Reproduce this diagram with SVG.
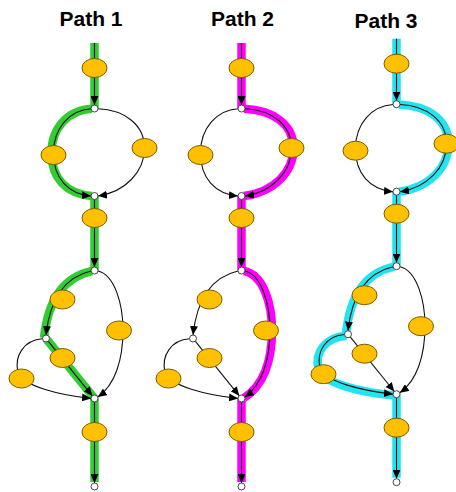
<svg xmlns="http://www.w3.org/2000/svg" width="456" height="492" viewBox="0 0 456 492">
<style>
.t{font-family:"Liberation Sans",Arial,sans-serif;font-weight:bold;font-size:21px;text-anchor:middle;fill:#000}
.e{fill:#ffc000;stroke:#7a5c00;stroke-width:1}
.j{fill:#fff;stroke:#444;stroke-width:1}
.c{fill:none;stroke:#111;stroke-width:1.1}
.a{marker-end:url(#ah)}
.hg{fill:none;stroke:#33cc33;stroke-width:8.5}
.hm{fill:none;stroke:#ff00ff;stroke-width:8.5}
.hc{fill:none;stroke:#22e4f0;stroke-width:8.5}
</style>
<defs>
<marker id="ah" markerUnits="userSpaceOnUse" markerWidth="9" markerHeight="8" refX="9" refY="4" orient="auto"><path d="M0,0L9,4L0,8z" fill="#000"/></marker>
</defs>
<rect width="456" height="492" fill="#fff"/>
<g id="titles">
<text class="t" x="91" y="26">Path 1</text>
<text class="t" x="242.5" y="26">Path 2</text>
<text class="t" x="386" y="28.3">Path 3</text>
</g>
<g id="connectors">
<g id="c1">
<path class="hg" d="M94.5,43V108"/>
<path class="hg" transform="translate(-2,0)" d="M94,108.8C70,110 53.5,128 53.5,153C53.5,178 68,194 94,196"/>
<path class="hg" d="M94.5,196V270"/>
<path class="hg" transform="translate(-2,0)" d="M94,271Q52,280 46,338"/>
<path class="hg" d="M46,338.5L94.5,398.5"/>
<path class="hg" d="M94.5,398.5V482"/>
<path class="c a" d="M94.5,43V105"/>
<path class="c a" d="M91,108.8C70,110 53.5,128 53.5,153C53.5,178 68,194 91,196"/>
<path class="c a" d="M98,108.8C125,110 144.5,125 144.5,148C144.5,172 125,192 98,196"/>
<path class="c a" d="M94.5,199.5V267"/>
<path class="c a" d="M91,271Q52,280 46,335"/>
<path class="c a" d="M98,271C115,275 123,305 123,330C123,360 115,385 97.8,397"/>
<path class="c a" d="M48.2,341.2L92.3,395.8"/>
<path class="c a" d="M42.5,338.8C24,340 14,356 18,372C22,386 60,395 91,398.4"/>
<path class="c a" d="M94.5,402V483"/>
</g>
<g id="c2" transform="translate(147,0)">
<path class="hm" d="M94.5,43V108"/>
<path class="hm" transform="translate(2,0)" d="M95,108.8C125,110 144.5,125 144.5,148C144.5,172 125,192 95,196"/>
<path class="hm" d="M94.5,196V270"/>
<path class="hm" transform="translate(2,0)" d="M95,271C115,275 123,305 123,330C123,360 115,385 95,398"/>
<path class="hm" d="M94.5,398.5V482"/>
<path class="c a" d="M94.5,43V105"/>
<path class="c a" d="M91,108.8C70,110 53.5,128 53.5,153C53.5,178 68,194 91,196"/>
<path class="c a" d="M98,108.8C125,110 144.5,125 144.5,148C144.5,172 125,192 98,196"/>
<path class="c a" d="M94.5,199.5V267"/>
<path class="c a" d="M91,271Q52,280 46,335"/>
<path class="c a" d="M98,271C115,275 123,305 123,330C123,360 115,385 97.8,397"/>
<path class="c a" d="M48.2,341.2L92.3,395.8"/>
<path class="c a" d="M42.5,338.8C24,340 14,356 18,372C22,386 60,395 91,398.4"/>
<path class="c a" d="M94.5,402V483"/>
</g>
<g id="c3" transform="translate(302,-4.3)">
<path class="hc" d="M94.5,43V108"/>
<path class="hc" transform="translate(2,0)" d="M95,108.8C125,110 144.5,125 144.5,148C144.5,172 125,192 95,196"/>
<path class="hc" d="M94.5,196V270"/>
<path class="hc" transform="translate(-2,0)" d="M94,271Q52,280 46,338"/>
<path class="hc" transform="translate(-1.5,1.5)" d="M46,338.5C24,340 14,356 18,372C22,386 60,395 94,398.4"/>
<path class="hc" d="M94.5,398.5V482"/>
<path class="c a" d="M94.5,43V105"/>
<path class="c a" d="M91,108.8C70,110 53.5,128 53.5,153C53.5,178 68,194 91,196"/>
<path class="c a" d="M98,108.8C125,110 144.5,125 144.5,148C144.5,172 125,192 98,196"/>
<path class="c a" d="M94.5,199.5V267"/>
<path class="c a" d="M91,271Q52,280 46,335"/>
<path class="c a" d="M98,271C115,275 123,305 123,330C123,360 115,385 97.8,397"/>
<path class="c a" d="M48.2,341.2L92.3,395.8"/>
<path class="c a" d="M42.5,338.8C24,340 14,356 18,372C22,386 60,395 91,398.4"/>
<path class="c a" d="M94.5,402V483"/>
</g>
</g>
<g id="nodes1">
<g id="p1-top"><ellipse class="e" cx="94.5" cy="68" rx="12.5" ry="9.5"/></g>
<g id="p1-j1"><circle class="j" cx="94.5" cy="108.5" r="3.5"/></g>
<g id="p1-l1"><ellipse class="e" cx="53.5" cy="155" rx="12.5" ry="9.5"/></g>
<g id="p1-r1"><ellipse class="e" cx="144.5" cy="148" rx="12.5" ry="9.5"/></g>
<g id="p1-j2"><circle class="j" cx="94.5" cy="196" r="3.5"/></g>
<g id="p1-mid"><ellipse class="e" cx="94.5" cy="218" rx="12.5" ry="9.5"/></g>
<g id="p1-j3"><circle class="j" cx="94.5" cy="270.5" r="3.5"/></g>
<g id="p1-ul"><ellipse class="e" cx="62.5" cy="299.5" rx="12.5" ry="9.5"/></g>
<g id="p1-r2"><ellipse class="e" cx="119" cy="330.5" rx="12.5" ry="9.5"/></g>
<g id="p1-j4"><circle class="j" cx="46" cy="338.5" r="3.5"/></g>
<g id="p1-m"><ellipse class="e" cx="62.5" cy="358" rx="12.5" ry="9.5"/></g>
<g id="p1-fl"><ellipse class="e" cx="21.5" cy="378.5" rx="12.5" ry="9.5"/></g>
<g id="p1-j5"><circle class="j" cx="94.5" cy="398.5" r="3.5"/></g>
<g id="p1-bot"><ellipse class="e" cx="94.5" cy="432" rx="12.5" ry="9.5"/></g>
<g id="p1-end"><circle class="j" cx="94.5" cy="486.5" r="3.5"/></g>
</g>
<g id="nodes2" transform="translate(147,0)">
<g id="p2-top"><ellipse class="e" cx="94.5" cy="68" rx="12.5" ry="9.5"/></g>
<g id="p2-j1"><circle class="j" cx="94.5" cy="108.5" r="3.5"/></g>
<g id="p2-l1"><ellipse class="e" cx="53.5" cy="155" rx="12.5" ry="9.5"/></g>
<g id="p2-r1"><ellipse class="e" cx="144.5" cy="148" rx="12.5" ry="9.5"/></g>
<g id="p2-j2"><circle class="j" cx="94.5" cy="196" r="3.5"/></g>
<g id="p2-mid"><ellipse class="e" cx="94.5" cy="218" rx="12.5" ry="9.5"/></g>
<g id="p2-j3"><circle class="j" cx="94.5" cy="270.5" r="3.5"/></g>
<g id="p2-ul"><ellipse class="e" cx="62.5" cy="299.5" rx="12.5" ry="9.5"/></g>
<g id="p2-r2"><ellipse class="e" cx="119" cy="330.5" rx="12.5" ry="9.5"/></g>
<g id="p2-j4"><circle class="j" cx="46" cy="338.5" r="3.5"/></g>
<g id="p2-m"><ellipse class="e" cx="62.5" cy="358" rx="12.5" ry="9.5"/></g>
<g id="p2-fl"><ellipse class="e" cx="21.5" cy="378.5" rx="12.5" ry="9.5"/></g>
<g id="p2-j5"><circle class="j" cx="94.5" cy="398.5" r="3.5"/></g>
<g id="p2-bot"><ellipse class="e" cx="94.5" cy="432" rx="12.5" ry="9.5"/></g>
<g id="p2-end"><circle class="j" cx="94.5" cy="486.5" r="3.5"/></g>
</g>
<g id="nodes3" transform="translate(302,-4.3)">
<g id="p3-top"><ellipse class="e" cx="94.5" cy="68" rx="12.5" ry="9.5"/></g>
<g id="p3-j1"><circle class="j" cx="94.5" cy="108.5" r="3.5"/></g>
<g id="p3-l1"><ellipse class="e" cx="53.5" cy="155" rx="12.5" ry="9.5"/></g>
<g id="p3-r1"><ellipse class="e" cx="144.5" cy="148" rx="12.5" ry="9.5"/></g>
<g id="p3-j2"><circle class="j" cx="94.5" cy="196" r="3.5"/></g>
<g id="p3-mid"><ellipse class="e" cx="94.5" cy="218" rx="12.5" ry="9.5"/></g>
<g id="p3-j3"><circle class="j" cx="94.5" cy="270.5" r="3.5"/></g>
<g id="p3-ul"><ellipse class="e" cx="62.5" cy="299.5" rx="12.5" ry="9.5"/></g>
<g id="p3-r2"><ellipse class="e" cx="119" cy="330.5" rx="12.5" ry="9.5"/></g>
<g id="p3-j4"><circle class="j" cx="46" cy="338.5" r="3.5"/></g>
<g id="p3-m"><ellipse class="e" cx="62.5" cy="358" rx="12.5" ry="9.5"/></g>
<g id="p3-fl"><ellipse class="e" cx="21.5" cy="378.5" rx="12.5" ry="9.5"/></g>
<g id="p3-j5"><circle class="j" cx="94.5" cy="398.5" r="3.5"/></g>
<g id="p3-bot"><ellipse class="e" cx="94.5" cy="432" rx="12.5" ry="9.5"/></g>
<g id="p3-end"><circle class="j" cx="94.5" cy="486.5" r="3.5"/></g>
</g>
</svg>
